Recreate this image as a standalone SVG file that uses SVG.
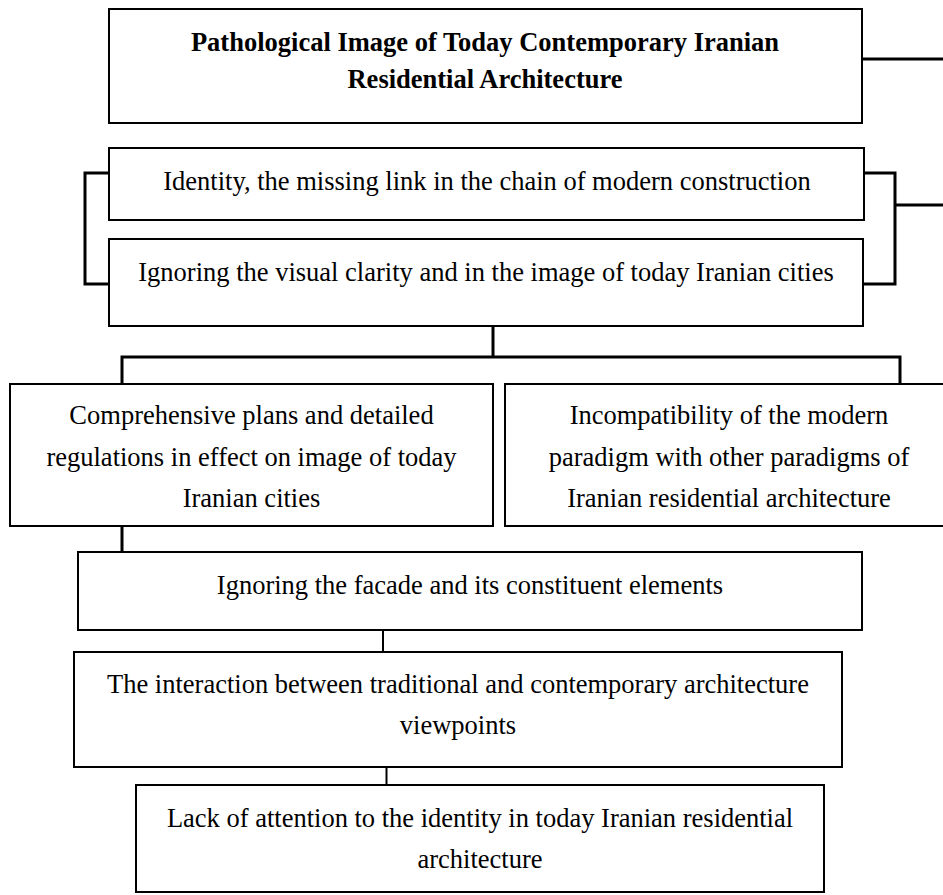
<svg xmlns="http://www.w3.org/2000/svg" width="943" height="895" viewBox="0 0 943 895">
<style>
.box{fill:#fff;stroke:#000;stroke-width:2}
.t{font-family:"Liberation Serif","Times New Roman",serif;font-size:26.5px;fill:#000;text-anchor:middle}
.b{font-weight:bold}
.c{fill:none;stroke:#000;stroke-width:3}
.c2{fill:none;stroke:#000;stroke-width:2}
</style>
<rect width="943" height="895" fill="#fff"/>
<g id="connectors">
<path class="c" d="M862,59 H943"/>
<path class="c" d="M109,173 H85 V284 H109"/>
<path class="c" d="M864,173 H895 V284 H863 M895,205 H943"/>
<path class="c" d="M493,326 V357 M122,384 V357 H900 V384"/>
<path class="c" d="M122,526 V552"/>
<path class="c2" d="M383,630 V652"/>
<path class="c2" d="M386.5,767 V785"/>
</g>
<g id="n_title">
<rect class="box" x="109" y="9" width="753" height="114"/>
<text class="t b" x="485" y="51">Pathological Image of Today Contemporary Iranian</text>
<text class="t b" x="485" y="88">Residential Architecture</text>
</g>
<g id="n_identity">
<rect class="box" x="109" y="148" width="755" height="72"/>
<text class="t" x="487" y="190">Identity, the missing link in the chain of modern construction</text>
</g>
<g id="n_visual">
<rect class="box" x="109" y="239" width="754" height="87"/>
<text class="t" x="486" y="281">Ignoring the visual clarity and in the image of today Iranian cities</text>
</g>
<g id="n_plans">
<rect class="box" x="10" y="384" width="483" height="142"/>
<text class="t" x="251.5" y="424">Comprehensive plans and detailed</text>
<text class="t" x="251.5" y="466">regulations in effect on image of today</text>
<text class="t" x="251.5" y="507">Iranian cities</text>
</g>
<g id="n_paradigm">
<rect class="box" x="505" y="384" width="448" height="142"/>
<text class="t" x="729" y="424">Incompatibility of the modern</text>
<text class="t" x="729" y="466">paradigm with other paradigms of</text>
<text class="t" x="729" y="507">Iranian residential architecture</text>
</g>
<g id="n_facade">
<rect class="box" x="78" y="552" width="784" height="78"/>
<text class="t" x="470" y="594">Ignoring the facade and its constituent elements</text>
</g>
<g id="n_interaction">
<rect class="box" x="74" y="652" width="768" height="115"/>
<text class="t" x="458" y="693">The interaction between traditional and contemporary architecture</text>
<text class="t" x="458" y="734">viewpoints</text>
</g>
<g id="n_lack">
<rect class="box" x="136" y="785" width="688" height="107"/>
<text class="t" x="480" y="827">Lack of attention to the identity in today Iranian residential</text>
<text class="t" x="480" y="868">architecture</text>
</g>
</svg>
